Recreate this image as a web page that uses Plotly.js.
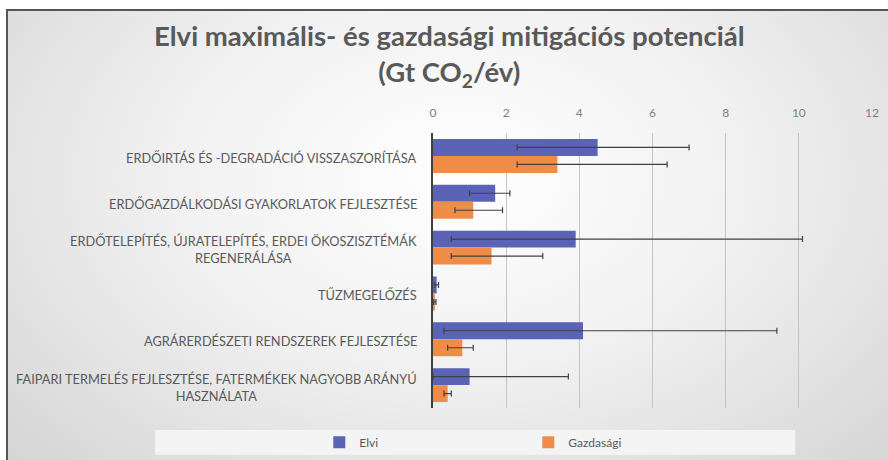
<!DOCTYPE html>
<html>
<head>
<meta charset="utf-8">
<script src="https://cdn.plot.ly/plotly-3.0.1.min.js"></script>
<style>
  html, body { margin: 0; padding: 0; width: 888px; height: 460px; overflow: hidden; background: #fff; }
  #frame { position: absolute; left: 6px; top: 9px; width: 900px; height: 470px;
    border-left: 2px solid #555; border-top: 2px solid #555;
    background: radial-gradient(ellipse 70% 90% at 50% 35%, #ffffff 0%, #f1f1f1 45%, #d4d4d4 100%); }
  #chart { position: absolute; left: 0; top: 0; width: 888px; height: 460px; }
</style>
</head>
<body>
<div id="frame"></div>
<div id="chart"></div>
<script>
const categories = [
  "ERDŐIRTÁS ÉS -DEGRADÁCIÓ VISSZASZORÍTÁSA",
  "ERDŐGAZDÁLKODÁSI GYAKORLATOK FEJLESZTÉSE",
  "ERDŐTELEPÍTÉS, ÚJRATELEPÍTÉS, ERDEI ÖKOSZISZTÉMÁK<br>REGENERÁLÁSA",
  "TŰZMEGELŐZÉS",
  "AGRÁRERDÉSZETI RENDSZEREK FEJLESZTÉSE",
  "FAIPARI TERMELÉS FEJLESZTÉSE, FATERMÉKEK NAGYOBB ARÁNYÚ<br>HASZNÁLATA"
];
const elvi      = [4.5, 1.7, 3.9, 0.1, 4.1, 1.0];
const elviLow   = [2.3, 1.0, 0.5, 0.05, 0.3, 0.0];
const elviHigh  = [7.0, 2.1, 10.1, 0.15, 9.4, 3.7];
const gazd      = [3.4, 1.1, 1.6, 0.05, 0.8, 0.4];
const gazdLow   = [2.3, 0.6, 0.5, 0.02, 0.4, 0.3];
const gazdHigh  = [6.4, 1.9, 3.0, 0.08, 1.1, 0.5];
const xTicks = [0, 2, 4, 6, 8, 10, 12];
const seriesNames = ["Elvi", "Gazdasági"];

const txtColor = "#595959";
const font = "Lato, 'Open Sans', sans-serif";

function errs(v, lo, hi) {
  return {
    type: "data", symmetric: false,
    array: hi.map((h, i) => h - v[i]),
    arrayminus: lo.map((l, i) => v[i] - l),
    color: "#404040", thickness: 1.2, width: 3
  };
}

const traces = [
  { type: "bar", orientation: "h", name: seriesNames[0], y: categories, x: elvi,
    marker: { color: "#5b63b7" }, error_x: errs(elvi, elviLow, elviHigh) },
  { type: "bar", orientation: "h", name: seriesNames[1], y: categories, x: gazd,
    marker: { color: "#ee8c48" }, error_x: errs(gazd, gazdLow, gazdHigh) }
];

const annotations = categories.map(c => ({
  xref: "paper", yref: "y", x: 0, y: c, xanchor: "right", yanchor: "middle",
  xshift: -14, yshift: -2, align: "center", showarrow: false, text: c,
  font: { family: font, size: 12.8, color: txtColor }
}));

const layout = {
  width: 888, height: 460,
  paper_bgcolor: "rgba(0,0,0,0)", plot_bgcolor: "rgba(0,0,0,0)",
  margin: { l: 433, r: 16, t: 133, b: 52, autoexpand: false },
  title: { text: "<b>Elvi maximális- és gazdasági mitigációs potenciál<br>(Gt CO<sub>2</sub>/év)</b>",
    x: 0.506, xanchor: "center", yref: "container", y: 0.9, yanchor: "middle",
    font: { family: font, size: 27.5, color: txtColor } },
  barmode: "group", bargap: 0.26, bargroupgap: 0,
  xaxis: { side: "top", range: [0, 12], tickvals: xTicks, ticktext: xTicks.map(String),
    showgrid: true, gridcolor: "#c4c4c4", gridwidth: 1, zeroline: false,
    tickfont: { family: font, size: 12, color: "#7f7f7f" }, ticks: "", ticklabelstandoff: 13,
    fixedrange: true },
  yaxis: { type: "category", autorange: "reversed", showticklabels: false,
    showline: true, linecolor: "#404040", linewidth: 2, ticks: "", showgrid: false, fixedrange: true },
  annotations: annotations,
  shapes: [{ type: "rect", xref: "paper", yref: "paper", x0: -0.633, x1: 0.825, y0: -0.08, y1: -0.17,
    fillcolor: "#f4f4f4", line: { width: 0 }, layer: "below" }],
  showlegend: true,
  legend: { orientation: "h", xref: "paper", yref: "paper", x: -0.259, xanchor: "left", y: -0.072, yanchor: "top",
    entrywidth: 164, bgcolor: "rgba(0,0,0,0)", font: { family: font, size: 12, color: txtColor },
    traceorder: "normal" }
};

Plotly.newPlot("chart", traces, layout, { displayModeBar: false, staticPlot: true });
</script>
</body>
</html>
